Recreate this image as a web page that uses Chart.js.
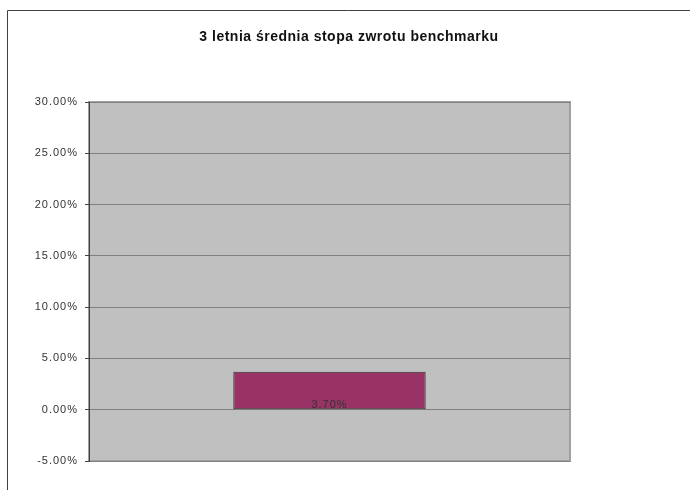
<!DOCTYPE html>
<html>
<head>
<meta charset="utf-8">
<script src="https://cdn.jsdelivr.net/npm/chart.js@4/dist/chart.umd.min.js"></script>
<style>
  html, body { margin: 0; padding: 0; background: #fff; }
  #wrap { width: 690px; height: 490px; }
</style>
</head>
<body>
<div id="wrap"><canvas id="myChart" width="690" height="490"></canvas></div>
<script>
const titleText = "3 letnia średnia stopa zwrotu benchmarku";
const categories = [""];
const values = [3.70];
const valueLabels = ["3.70%"];
const yTicks = [-5, 0, 5, 10, 15, 20, 25, 30];

// grey plot area, frame, outer chart border, title and value label
const frame = {
  id: "frame",
  beforeDraw(chart) {
    const ctx = chart.ctx;
    ctx.letterSpacing = "1px";
    const a = chart.chartArea;
    ctx.save();
    ctx.fillStyle = "#fff";
    ctx.fillRect(0, 0, chart.width, chart.height);
    ctx.strokeStyle = "#404040";
    ctx.lineWidth = 1;
    ctx.beginPath();
    ctx.moveTo(7.5, chart.height);
    ctx.lineTo(7.5, 10.5);
    ctx.lineTo(chart.width, 10.5);
    ctx.stroke();
    ctx.fillStyle = "#c0c0c0";
    ctx.fillRect(a.left, a.top, a.right - a.left, a.bottom - a.top);
    ctx.strokeStyle = "#a0a0a0";
    ctx.lineWidth = 2;
    ctx.strokeRect(a.left, a.top, a.right - a.left, a.bottom - a.top);
    ctx.restore();
  },
  afterDatasetsDraw(chart) {
    const ctx = chart.ctx;
    const meta = chart.getDatasetMeta(0);
    ctx.save();
    ctx.font = "11px 'Liberation Sans', Arial, sans-serif";
    ctx.fillStyle = "#333";
    ctx.textAlign = "center";
    ctx.textBaseline = "middle";
    meta.data.forEach((bar, i) => {
      ctx.fillText(valueLabels[i], bar.x, bar.base - 4);
    });
    ctx.restore();
  },
  afterDraw(chart) {
    const ctx = chart.ctx;
    ctx.save();
    ctx.letterSpacing = "0.5px";
    ctx.font = "bold 14px 'Liberation Sans', Arial, sans-serif";
    ctx.fillStyle = "#111";
    ctx.textAlign = "center";
    ctx.textBaseline = "middle";
    ctx.fillText(titleText, 349, 37);
    ctx.restore();
  }
};

const data = {
  labels: categories,
  datasets: [
    {
      data: values,
      backgroundColor: "#993366",
      borderColor: "#333333",
      borderWidth: 1,
      borderSkipped: false,
      barPercentage: 0.4,
      categoryPercentage: 1.0,
    },
  ],
};

const config = {
  type: "bar",
  data: data,
  plugins: [frame],
  options: {
    responsive: false,
    animation: false,
    layout: { padding: { left: 0, right: 120, top: 102, bottom: 29 } },
    plugins: {
      legend: { display: false },
      tooltip: { enabled: false },
      title: { display: false },
    },
    scales: {
      x: {
        afterFit(scale) { scale.height = 0; },
        ticks: { display: false },
        grid: { display: false },
        border: { display: false },
      },
      y: {
        min: -5,
        max: 30,
        afterFit(scale) { scale.width = 89; },
        afterBuildTicks(scale) { scale.ticks = yTicks.map(v => ({ value: v })); },
        ticks: {
          color: "#333",
          padding: 7,
          font: { family: "'Liberation Sans', Arial, sans-serif", size: 11 },
          callback: v => v.toFixed(2) + "%",
        },
        grid: {
          color: "#808080",
          tickColor: "#404040",
          tickLength: 4,
          drawOnChartArea: true,
        },
        border: { color: "#404040", width: 1 },
      },
    },
  },
};

var myChart = new Chart(document.getElementById("myChart"), config);
</script>
</body>
</html>
